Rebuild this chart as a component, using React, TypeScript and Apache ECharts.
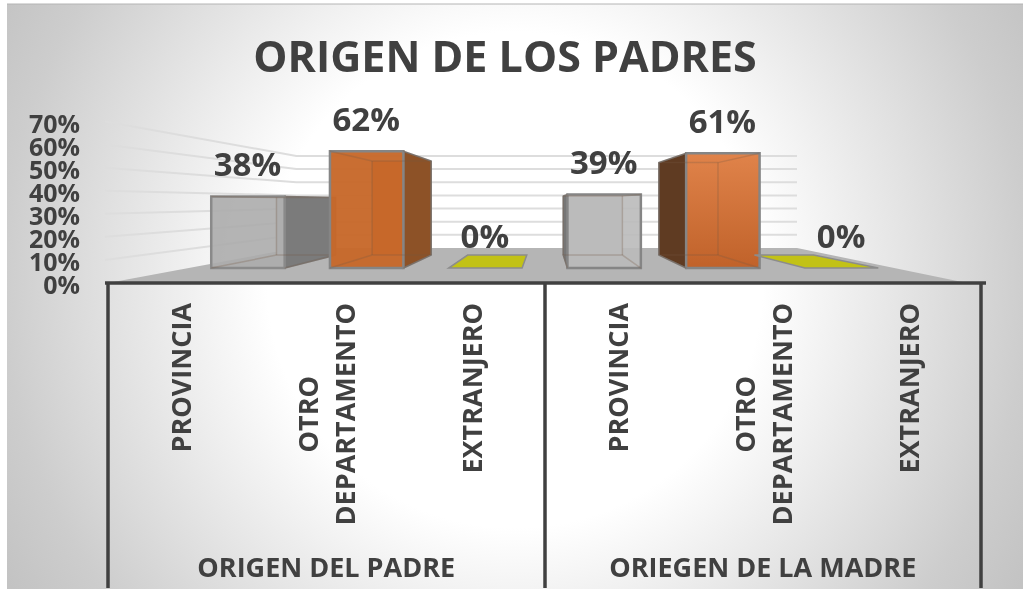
import React, { useEffect, useRef } from "react";
import * as echarts from "echarts";

const title = "ORIGEN DE LOS PADRES";
const categories = ["PROVINCIA", "OTRO\nDEPARTAMENTO", "EXTRANJERO", "PROVINCIA", "OTRO\nDEPARTAMENTO", "EXTRANJERO"];
const groups = ["ORIGEN DEL PADRE", "ORIEGEN DE LA MADRE"];
const values = [0.38, 0.62, 0, 0.39, 0.61, 0];
const labels = ["38%", "62%", "0%", "39%", "61%", "0%"];
const gridTicks = [0, 0.1, 0.2, 0.3, 0.4, 0.5, 0.6, 0.7];
const tickLabels = ["0%", "10%", "20%", "30%", "40%", "50%", "60%", "70%"];
const TEXT = "#404040";
const FONT = "'Open Sans', sans-serif";

type Face = { front: string; back: string; side: string; stroke: string };
const faces: Face[] = [
  { front: "rgba(172,172,172,0.9)", back: "#bdbdbd", side: "#7b7b7b", stroke: "#8a8a8a" },
  { front: "rgba(199,104,42,0.96)", back: "#c0682f", side: "#8d5227", stroke: "#858585" },
  { front: "#c2c216", back: "#c2c216", side: "#c2c216", stroke: "#8c8c8c" },
  { front: "rgba(186,186,186,0.9)", back: "#c4c4c4", side: "#767676", stroke: "#858585" },
  { front: "orange", back: "#c96f33", side: "#5f3b22", stroke: "#858585" },
  { front: "#c2c216", back: "#c2c216", side: "#c2c216", stroke: "#8c8c8c" },
];

// Perspective: axis plane is depth 1, everything shrinks towards the vanishing point.
const VP_X = 546;
const VP_Y = 201.6;
const F_FRONT = 0.816;
const F_BACK = 0.657;
const F_WALL = 0.57;
const BAR_WIDTH = 90;
const project = (x: number, y: number, f: number) => [VP_X + (x - VP_X) * f, VP_Y + (y - VP_Y) * f];

export default function App() {
  const ref = useRef<HTMLDivElement>(null);
  useEffect(() => {
    const chart = echarts.init(ref.current!, undefined, { renderer: "svg" });
    const bg = new echarts.graphic.RadialGradient(
      515,
      280,
      590,
      [
        { offset: 0, color: "#ffffff" },
        { offset: 0.42, color: "#ffffff" },
        { offset: 0.87, color: "#cdcdcd" },
        { offset: 1, color: "#c3c3c3" },
      ],
      true
    );
    const orangeFront = new echarts.graphic.LinearGradient(0, 0, 0, 1, [
      { offset: 0, color: "#e0834a" },
      { offset: 1, color: "#c0622a" },
    ]);

    const renderBar = (params: any, api: any) => {
      const i = params.dataIndex;
      const cx = api.coord([i, 0])[0];
      const y0 = api.coord([i, 0])[1];
      const y1 = api.coord([i, api.value(1)])[1];
      const L = cx - BAR_WIDTH / 2;
      const R = cx + BAR_WIDTH / 2;
      const fa = faces[i];
      const p = (x: number, y: number, f: number) => project(x, y, f);
      const fbl = p(L, y0, F_FRONT), fbr = p(R, y0, F_FRONT), ftl = p(L, y1, F_FRONT), ftr = p(R, y1, F_FRONT);
      const bbl = p(L, y0, F_BACK), bbr = p(R, y0, F_BACK), btl = p(L, y1, F_BACK), btr = p(R, y1, F_BACK);
      const poly = (points: number[][], fill: any, stroke: string, lw = 2) => ({
        type: "polygon",
        shape: { points },
        style: { fill, stroke, lineWidth: lw },
      });
      const children: any[] = [];
      if (api.value(1) === 0) {
        children.push(poly([fbl, fbr, bbr, bbl], fa.front, fa.stroke, 1.5));
      } else {
        const sideOnRight = cx < VP_X - 100;
        const innerStroke = "rgba(120,90,70,0.28)";
        children.push(poly([bbl, bbr, btr, btl], fa.back, "rgba(120,120,120,0.25)", 1));
        if (sideOnRight) children.push(poly([fbr, bbr, btr, ftr], fa.side, "rgba(120,120,120,0.9)", 1.5));
        else children.push(poly([fbl, bbl, btl, ftl], fa.side, "rgba(120,120,120,0.9)", 1.5));
        children.push(poly([fbl, fbr, ftr, ftl], fa.front === "orange" ? orangeFront : fa.front, fa.stroke, 2.5));
        children.push({ type: "polyline", shape: { points: [ftl, btl, btr, ftr] }, style: { fill: "none", stroke: innerStroke, lineWidth: 1.5 } });
        children.push({ type: "polyline", shape: { points: [fbl, bbl, bbr, fbr] }, style: { fill: "none", stroke: innerStroke, lineWidth: 1.5 } });
        children.push({ type: "line", shape: { x1: btl[0], y1: btl[1], x2: bbl[0], y2: bbl[1] }, style: { stroke: innerStroke, lineWidth: 1.5 } });
        children.push({ type: "line", shape: { x1: btr[0], y1: btr[1], x2: bbr[0], y2: bbr[1] }, style: { stroke: innerStroke, lineWidth: 1.5 } });
      }
      children.push({
        type: "text",
        style: {
          text: labels[i],
          x: (ftl[0] + ftr[0]) / 2 - 0.5,
          y: ftl[1] - 33,
          fill: TEXT,
          font: `bold 33px ${FONT}`,
          textAlign: "center",
          textVerticalAlign: "middle",
        },
      });
      return { type: "group", children };
    };

    const renderGrid = (params: any, api: any) => {
      const i = params.dataIndex;
      const v = api.value(0);
      const x0 = api.coord([0, 0])[0] - 145.5 / 2;
      const y = api.coord([0, v])[1];
      const back = project(x0, y, F_WALL);
      const children: any[] = [
        {
          type: "text",
          style: {
            text: tickLabels[i],
            x: x0 - 28,
            y: y + 1,
            fill: TEXT,
            font: `bold 25px ${FONT}`,
            textAlign: "right",
            textVerticalAlign: "middle",
          },
        },
      ];
      if (v > 0) {
        children.push({
          type: "polyline",
          shape: { points: [[x0 - 3, y], back, [797, back[1]]] },
          style: { fill: "none", stroke: "#dddddd", lineWidth: 2 },
        });
      }
      return { type: "group", children };
    };

    chart.setOption({
      animation: false,
      graphic: [
        { type: "rect", z: -10, shape: { x: 7, y: 4, width: 1016, height: 585 }, style: { fill: bg } },
        { type: "line", z: -9, shape: { x1: 7, y1: 4, x2: 1023, y2: 4 }, style: { stroke: "#b4b4b4", lineWidth: 1 } },
        { type: "polygon", z: 1, shape: { points: [[108, 283], [296, 248], [797, 248], [967, 283]] }, style: { fill: "#b5b5b5" } },
        { type: "line", z: 10, shape: { x1: 105, y1: 283, x2: 986, y2: 283 }, style: { stroke: TEXT, lineWidth: 3.5 } },
      ],
      title: {
        text: title,
        left: 500,
        top: 29,
        textAlign: "center",
        textStyle: { color: TEXT, fontFamily: FONT, fontWeight: "bold", fontSize: 43 },
      },
      grid: { left: 108, width: 873, top: 121.5, height: 161.5 },
      xAxis: [
        {
          type: "category",
          data: categories,
          axisLine: { show: false },
          axisTick: { show: false },
          axisLabel: {
            interval: 0,
            rotate: 90,
            margin: 20,
            color: TEXT,
            formatter: (s: string) => s.split("\n").map((t) => `{c|${t}}`).join("\n"),
            rich: {
              c: { align: "center", color: TEXT, fontFamily: FONT, fontWeight: "bold", fontSize: 27, lineHeight: 37 },
            },
          },
        },
        {
          type: "category",
          position: "bottom",
          data: groups,
          axisLine: { show: false },
          axisTick: { show: true, alignWithLabel: false, length: 305, lineStyle: { color: TEXT, width: 3.5 } },
          axisLabel: {
            interval: 0,
            margin: 270,
            color: TEXT,
            fontFamily: FONT,
            fontWeight: "bold",
            fontSize: 27,
          },
        },
      ],
      yAxis: {
        type: "value",
        min: 0,
        max: 0.7,
        interval: 0.1,
        splitLine: { show: false },
        axisLine: { show: false },
        axisTick: { show: false },
        axisLabel: { show: false },
      },
      series: [
        {
          type: "custom",
          z: 2,
          clip: false,
          silent: true,
          coordinateSystem: "cartesian2d",
          data: gridTicks.map((v) => [v]),
          encode: { y: 0 },
          renderItem: renderGrid,
        },
        {
          type: "custom",
          z: 3,
          clip: false,
          silent: true,
          coordinateSystem: "cartesian2d",
          data: values.map((v, i) => [i, v]),
          encode: { x: 0, y: 1 },
          renderItem: renderBar,
        },
      ],
    });
    return () => chart.dispose();
  }, []);
  return <div ref={ref} style={{ position: "fixed", left: 0, top: 0, width: 1023, height: 589 }} />;
}
